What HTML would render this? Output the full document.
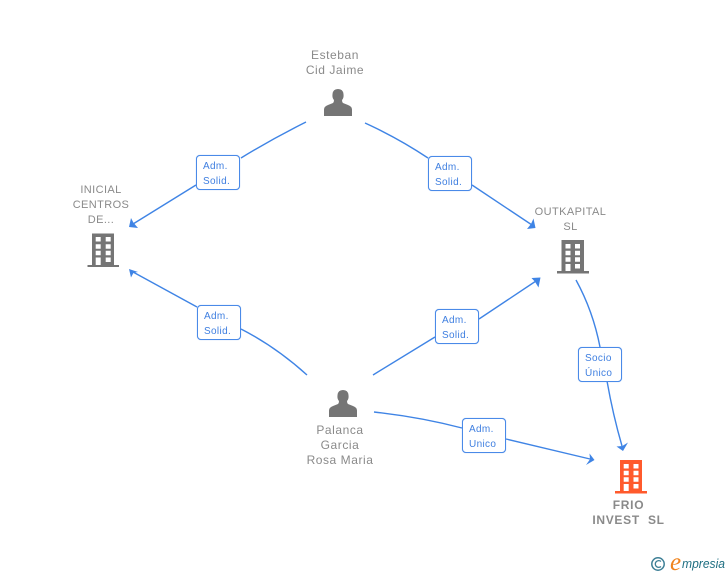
<!DOCTYPE html>
<html>
<head>
<meta charset="utf-8">
<style>
html,body{margin:0;padding:0;background:#fff;}
#c{position:relative;width:728px;height:575px;overflow:hidden;font-family:"Liberation Sans",sans-serif;}
svg{position:absolute;left:0;top:0;}
.t{position:absolute;text-align:center;color:#8a8a8a;font-size:12px;line-height:15px;letter-spacing:.55px;white-space:nowrap;transform:translateX(-50%);}
.co{font-size:11px;letter-spacing:.4px;}
.b{position:absolute;width:42px;height:33px;border:1px solid #4a8ae8;border-radius:4px;background:#fff;box-sizing:content-box;color:#3f7fe0;font-size:10px;line-height:15px;letter-spacing:.35px;padding:0;box-shadow:0 0 .6px #4a8ae8;}
.b span{display:block;margin:3px 0 0 6px;white-space:nowrap;}
.b span+span{margin-top:0;}
</style>
</head>
<body>
<div id="c">
<svg width="728" height="575" viewBox="0 0 728 575">
<g fill="none" stroke="#3f84e5" stroke-width="1.4">
<path d="M306 122 Q272 139 241 158"/>
<path d="M196 185 L133 224"/>
<path d="M365 123 Q398 138 428 158"/>
<path d="M472 185 L532 225"/>
<path d="M307 375 Q276 347 241 329"/>
<path d="M197 307 L133 272"/>
<path d="M373 375 Q404 356 435 337"/>
<path d="M479 319 L536 281"/>
<path d="M576 280 Q593 311 600 347"/>
<path d="M607 381 Q613 415 622 446"/>
<path d="M374 412 Q420 417 462 428"/>
<path d="M506 439 L590 459"/>
</g>
<g fill="#3f84e5">
<path d="M129 227 L131 218 L133.500 222.700 L138 228 Z"/>
<path d="M129 269 L131 277.500 L133.500 272.700 L138 272 Z"/>
<path d="M535.500 228 L533.500 218.500 L531 224 L527 229 Z"/>
<path d="M540.500 277.500 L531.500 278 L535 281.700 L538.500 287.500 Z"/>
<path d="M623 451 L616.500 446.500 L622.300 446 L628 442.500 Z"/>
<path d="M594.500 460 L589.500 453.500 L590 459.300 L586 465 Z"/>
</g>
<!-- persons -->
<g fill="#757575">
<path d="M324 116 V109.500 Q324 106.500 328 105 L333 103 Q334 102 334 100 Q332 98 332.500 94 Q333 89 338 89 Q343 89 343.500 94 Q344 98 342 100 Q342 102 343 103 L348 105 Q352 106.500 352 109.500 V116 Z"/>
<path transform="translate(5 301)" d="M324 116 V109.500 Q324 106.500 328 105 L333 103 Q334 102 334 100 Q332 98 332.500 94 Q333 89 338 89 Q343 89 343.500 94 Q344 98 342 100 Q342 102 343 103 L348 105 Q352 106.500 352 109.500 V116 Z"/>
</g>
<!-- buildings -->
<path fill="#757575" fill-rule="evenodd" d="M92 233.500 H114 V265 H119 V267 H87.500 V265 H92 Z M95.700 237 V241.500 H100.700 V237 Z M105.700 237 V241.500 H110.700 V237 Z M95.700 244.200 V248.700 H100.700 V244.200 Z M105.700 244.200 V248.700 H110.700 V244.200 Z M95.700 250.700 V255.200 H100.700 V250.700 Z M105.700 250.700 V255.200 H110.700 V250.700 Z M95.700 257.500 V265 H100.700 V257.500 Z M105.700 257.500 V262 H110.700 V257.500 Z"/>
<path fill="#757575" fill-rule="evenodd" d="M561.500 240 H584 V271 H589 V273.500 H557 V271 H561.500 Z M565.500 244 V248.500 H570.500 V244 Z M575 244 V248.500 H580 V244 Z M565.500 250.700 V255.200 H570.500 V250.700 Z M575 250.700 V255.200 H580 V250.700 Z M565.500 257.300 V261.800 H570.500 V257.300 Z M575 257.300 V261.800 H580 V257.300 Z M565.500 264 V271 H570.500 V264 Z M575 264 V268.500 H580 V264 Z"/>
<path fill="#ff5a2c" fill-rule="evenodd" d="M620 460 H642 V491 H647 V493.500 H615 V491 H620 Z M623.700 464 V468.500 H628.700 V464 Z M633.500 464 V468.500 H638.500 V464 Z M623.700 470.700 V475.200 H628.700 V470.700 Z M633.500 470.700 V475.200 H638.500 V470.700 Z M623.700 477.300 V481.800 H628.700 V477.300 Z M633.500 477.300 V481.800 H638.500 V477.300 Z M623.700 484 V491 H628.700 V484 Z M633.500 484 V488.500 H638.500 V484 Z"/>
<!-- logo -->
<circle cx="658" cy="564" r="6.200" fill="none" stroke="#3d7f96" stroke-width="1.500"/>
<path d="M661 561.500 A3.400 3.400 0 1 0 661 566.500" fill="none" stroke="#3d7f96" stroke-width="1.300"/>
<text x="670" y="570" font-family="'Liberation Serif',serif" font-style="italic" font-size="25" fill="#f0841e">e</text>
<text x="682" y="568" font-family="'Liberation Sans',sans-serif" font-style="italic" font-size="13" fill="#1f6f82" textLength="43" lengthAdjust="spacingAndGlyphs">mpresia</text>
</svg>

<div class="t" style="left:335px;top:47.500px;">Esteban<br>Cid Jaime</div>
<div class="t co" style="left:101px;top:182.500px;">INICIAL<br>CENTROS<br>DE...</div>
<div class="t co" style="left:570.500px;top:204.500px;">OUTKAPITAL<br>SL</div>
<div class="t" style="left:340px;top:423px;">Palanca<br>Garcia<br>Rosa Maria</div>
<div class="t" style="left:628.500px;top:498px;font-weight:bold;letter-spacing:.7px;">FRIO<br>INVEST&nbsp;&nbsp;SL</div>

<div class="b" style="left:196px;top:155px;"><span>Adm.</span><span>Solid.</span></div>
<div class="b" style="left:428px;top:156px;"><span>Adm.</span><span>Solid.</span></div>
<div class="b" style="left:197px;top:305px;"><span>Adm.</span><span>Solid.</span></div>
<div class="b" style="left:435px;top:309px;"><span>Adm.</span><span>Solid.</span></div>
<div class="b" style="left:578px;top:347px;"><span>Socio</span><span>Único</span></div>
<div class="b" style="left:462px;top:418px;"><span>Adm.</span><span>Unico</span></div>
</div>
</body>
</html>
